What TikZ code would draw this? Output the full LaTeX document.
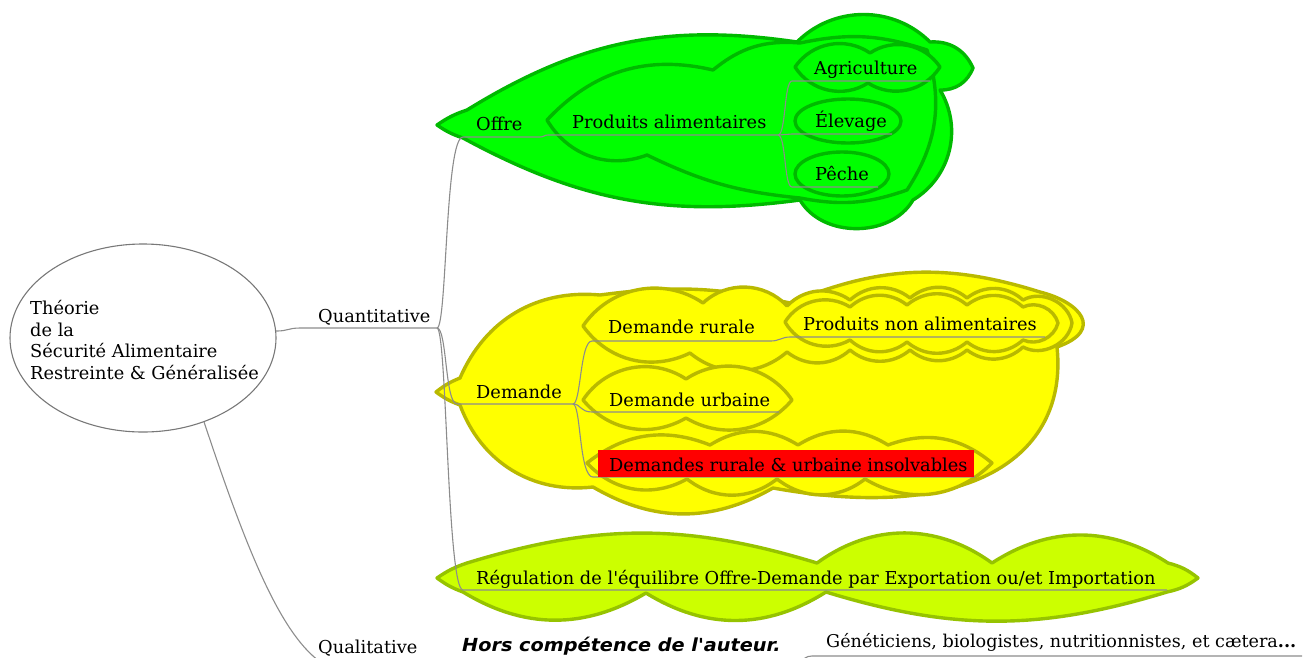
\documentclass[tikz,border=0pt]{standalone}
\usepackage{fontspec}
\setmainfont{DejaVu Serif}
\newfontfamily\hsans{DejaVu Sans}
\usetikzlibrary{shapes.geometric}
\definecolor{gfill}{RGB}{0,255,0}
\definecolor{gline}{RGB}{0,185,0}
\definecolor{yfill}{RGB}{255,255,0}
\definecolor{yline}{RGB}{185,185,0}
\definecolor{lfill}{RGB}{204,255,0}
\definecolor{lline}{RGB}{150,195,0}
\definecolor{edgec}{RGB}{140,140,140}
\definecolor{rootc}{RGB}{120,120,120}
\begin{document}
\begin{tikzpicture}[x=1pt,y=-1pt,
  gcloud/.style={fill=gfill,draw=gline,line width=3.4pt,line join=round},
  ycloud/.style={fill=yfill,draw=yline,line width=3.4pt,line join=round},
  lcloud/.style={fill=lfill,draw=lline,line width=3.4pt,line join=round},
  edge/.style={draw=edgec,line width=1.1pt},
  lbl/.style={inner sep=0pt,anchor=base west,font=\fontsize{17.8}{22}\selectfont},
]
\useasboundingbox (0,0) rectangle (1306,657);
\clip (0,0) rectangle (1306,657);

% ---------- green clouds ----------
\path[gcloud] (437,125) to[bend left=8] (467,110) to[bend left=20] (797,42)
  to[bend left=45] (930,42) to[bend left=35] (973,68) to[bend left=35] (940,90)
  to[bend left=45] (913,200) to[bend left=60] (800,200) to[bend left=18] (463,138)
  to[bend left=8] (437,125) -- cycle;
\path[gcloud] (547,120) to[bend left=30] (713,70) to[bend left=22] (800,43)
  to[bend left=15] (927,50) to[bend left=25] (907,190) to[bend left=15] (800,198)
  to[bend left=10] (647,155) to[bend left=40] (547,120) -- cycle;
\path[gcloud] (795,67) to[bend left=45] (870,53) to[bend left=45] (940,67)
  to[bend left=45] (868,83) to[bend left=45] (795,67) -- cycle;
\path[gcloud] (848,121) ellipse [x radius=53, y radius=22];
\path[gcloud] (842,174) ellipse [x radius=47, y radius=22];

% ---------- yellow clouds ----------
\path[ycloud] (436,392) to[bend left=8] (460,378) to[bend left=36] (600,295)
  to[bend left=10] (790,303) to[bend left=20] (1040,292)
  .. controls (1080,302) and (1105,330) .. (1057,347)
  .. controls (1068,450) and (980,525) .. (773,488)
  to[bend left=30] (593,487) to[bend left=38] (460,405) to[bend left=8] (436,392) -- cycle;
\path[ycloud] (583,326) to[bend left=45] (703,303) to[bend left=45] (787,306)
  to[bend left=40] (850,300) to[bend left=40] (910,298) to[bend left=40] (967,298)
  to[bend left=40] (1023,300) to[bend left=55] (1072,323) to[bend left=55] (1023,347)
  to[bend left=40] (967,350) to[bend left=40] (910,350) to[bend left=40] (850,350)
  to[bend left=40] (787,352) to[bend left=40] (690,353) to[bend left=40] (583,326) -- cycle;
\path[ycloud] (785,322) to[bend left=45] (850,307) to[bend left=40] (907,305)
  to[bend left=40] (967,305) to[bend left=40] (1023,307) to[bend left=50] (1058,323)
  to[bend left=50] (1023,340) to[bend left=40] (967,342) to[bend left=40] (907,342)
  to[bend left=40] (850,340) to[bend left=45] (785,322) -- cycle;
\path[ycloud] (583,400) to[bend left=45] (686,379) to[bend left=45] (792,400)
  to[bend left=40] (686,418) to[bend left=40] (583,400) -- cycle;
\path[ycloud] (587,463) to[bend left=30] (710,445) to[bend left=32] (798,445)
  to[bend left=32] (888,445) to[bend left=30] (992,463) to[bend left=38] (865,479)
  to[bend left=38] (777,479) to[bend left=38] (687,479) to[bend left=38] (587,463) -- cycle;

% ---------- lime cloud ----------
\path[lcloud] (437,578) to[bend left=8] (467,563) to[bend left=17] (817,563)
  to[bend left=36] (992,563) to[bend left=33] (1168,563) to[bend left=12] (1198,578)
  to[bend left=12] (1167,592) to[bend left=17] (826,592) to[bend left=32] (646,593)
  to[bend left=31] (463,592) to[bend left=8] (437,578) -- cycle;

% ---------- root ----------
\node[draw=rootc, line width=1.1pt, ellipse, minimum width=266, minimum height=188, inner sep=0] (root) at (143,338) {};

% ---------- anchor points of underlines ----------
\coordinate (qS) at (300,328); \coordinate (qE) at (437,328);
\coordinate (oS) at (463,137); \coordinate (oE) at (540,137);
\coordinate (pS) at (548,135); \coordinate (pE) at (778,135);
\coordinate (agS) at (792,81); \coordinate (agE) at (930,81);
\coordinate (elS) at (792,134); \coordinate (elE) at (892,134);
\coordinate (peS) at (792,187); \coordinate (peE) at (878,187);
\coordinate (dS) at (457,404); \coordinate (dE) at (573,404);
\coordinate (drS) at (592,341); \coordinate (drE) at (771,341);
\coordinate (pnS) at (790,337); \coordinate (pnE) at (1045,337);
\coordinate (duS) at (592,412); \coordinate (duE) at (779,412);
\coordinate (diS) at (593,477); \coordinate (diE) at (975,477);
\coordinate (rS) at (463,590); \coordinate (rE) at (1167,590);
\coordinate (qlS) at (330,668); \coordinate (qlE) at (440,668);
\coordinate (gIn) at (790,668);
\coordinate (gS) at (812,656); \coordinate (gE) at (1302,656);

% ---------- connectors ----------
\draw[edge] (root.3) .. controls +(12,0) and +(-12,0) .. (qS) -- (qE);
\draw[edge] (qE) .. controls +(10,0) and +(-18,0) .. (oS) -- (oE)
  .. controls +(4,0) and +(-4,0) .. (pS) -- (pE);
\draw[edge] (pE) .. controls +(8,0) and +(-8,0) .. (agS) -- (agE);
\draw[edge] (pE) -- (elS) -- (elE);
\draw[edge] (pE) .. controls +(8,0) and +(-8,0) .. (peS) -- (peE);
\draw[edge] (qE) .. controls +(10,0) and +(-12,0) .. (dS) -- (dE);
\draw[edge] (dE) .. controls +(8,0) and +(-12,0) .. (drS) -- (drE)
  .. controls +(8,0) and +(-8,0) .. (pnS) -- (pnE);
\draw[edge] (dE) .. controls +(8,0) and +(-12,0) .. (duS) -- (duE);
\draw[edge] (dE) .. controls +(8,0) and +(-14,0) .. (diS) -- (diE);
\draw[edge] (qE) .. controls +(10,0) and +(-16,0) .. (rS) -- (rE);
\draw[edge] (root.-54.5) .. controls (250,560) and (285,645) .. (qlS) -- (qlE);
\draw[edge] (gIn) .. controls +(12,0) and +(-12,0) .. (gS) -- (gE);

% ---------- texts ----------
\node[anchor=west, align=left, inner sep=0, font=\fontsize{17.8}{21.7}\selectfont] (roottext) at (30,340)
  {Théorie\\de la\\Sécurité Alimentaire\\Restreinte \& Généralisée};
\node[lbl] (quant) at (318,322) {Quantitative};
\node[lbl] (offre) at (476,130) {Offre};
\node[lbl] (prod) at (572,128) {Produits alimentaires};
\node[lbl] (agri) at (814,74) {Agriculture};
\node[lbl] (elev) at (815,127) {Élevage};
\node[lbl] (peche) at (815,180) {Pêche};
\node[lbl] (dem) at (476,398) {Demande};
\node[lbl] (demr) at (608,333) {Demande rurale};
\node[lbl] (pna) at (803,330) {Produits non alimentaires};
\node[lbl] (demu) at (609,406) {Demande urbaine};
\node[fill=red, inner sep=0, minimum width=376, minimum height=27, anchor=north west] (redbox) at (598,450) {};
\node[lbl] (demi) at (609,471) {Demandes rurale \& urbaine insolvables};
\node[lbl] (regul) at (476,584) {Régulation de l\textquotesingle équilibre Offre-Demande par Exportation ou/et Importation};
\node[lbl] (qual) at (318,653) {Qualitative};
\node[lbl, font=\hsans\bfseries\itshape\fontsize{18}{20}\selectfont] (hors) at (462,651) {\scalebox{1.07}[1]{Hors compétence de l\textquotesingle auteur.}};
\node[lbl, font=\fontsize{17.6}{20}\selectfont] (gen) at (826,647) {Généticiens, biologistes, nutritionnistes, et cætera\textbf{...}};
\end{tikzpicture}
\end{document}
